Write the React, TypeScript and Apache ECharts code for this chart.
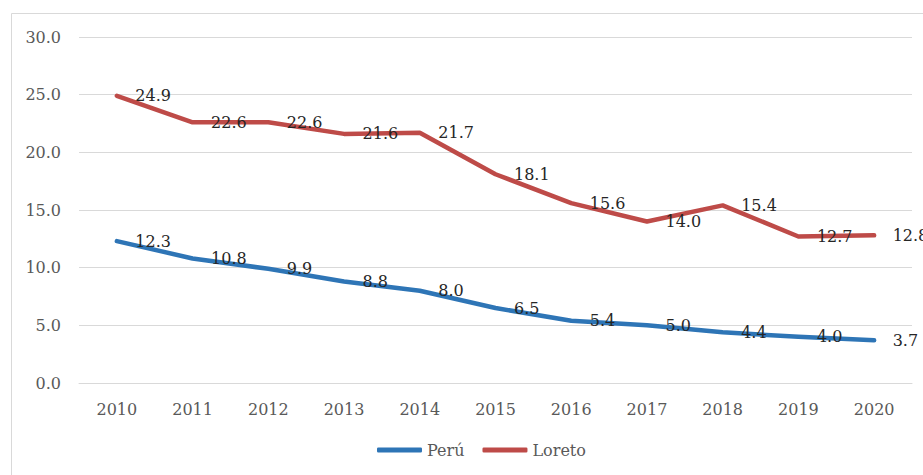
import React, { useEffect, useRef } from "react";
import * as echarts from "echarts";

const years = ["2010", "2011", "2012", "2013", "2014", "2015", "2016", "2017", "2018", "2019", "2020"];
const peru = [12.3, 10.8, 9.9, 8.8, 8.0, 6.5, 5.4, 5.0, 4.4, 4.0, 3.7];
const loreto = [24.9, 22.6, 22.6, 21.6, 21.7, 18.1, 15.6, 14.0, 15.4, 12.7, 12.8];

const FONT = "DejaVu Serif";

export default function App() {
  const ref = useRef<HTMLDivElement>(null);
  useEffect(() => {
    if (!ref.current) return;
    const chart = echarts.init(ref.current, null, { renderer: "svg" });
    const label = {
      show: true,
      position: "right" as const,
      distance: 18,
      color: "#262626",
      fontFamily: FONT,
      fontSize: 16,
      formatter: (p: any) => Number(p.value).toFixed(1),
    };
    chart.setOption({
      animation: false,
      backgroundColor: "#ffffff",
      graphic: [
        {
          type: "rect",
          shape: { x: 11.5, y: 13.5, width: 1000, height: 1000 },
          style: { fill: "none", stroke: "#d9d9d9", lineWidth: 1 },
          silent: true,
          z: -1,
        },
      ],
      grid: { left: 79, right: 11, top: 37, bottom: 92, containLabel: false },
      legend: {
        bottom: 12,
        left: 372,
        icon: "roundRect",
        itemWidth: 45,
        itemHeight: 5,
        itemGap: 18,
        textStyle: { fontFamily: FONT, fontSize: 16, color: "#595959" },
        data: ["Perú", "Loreto"],
      },
      xAxis: {
        type: "category",
        data: years,
        boundaryGap: true,
        axisLine: { show: true, lineStyle: { color: "#d9d9d9" } },
        axisTick: { show: false },
        axisLabel: { fontFamily: FONT, fontSize: 16, color: "#595959", margin: 18 },
      },
      yAxis: {
        type: "value",
        min: 0,
        max: 30,
        interval: 5,
        axisLine: { show: false },
        axisTick: { show: false },
        splitLine: { lineStyle: { color: "#d9d9d9", width: 1 } },
        axisLabel: {
          fontFamily: FONT,
          fontSize: 16,
          color: "#595959",
          margin: 18,
          formatter: (v: number) => v.toFixed(1),
        },
      },
      series: [
        {
          name: "Perú",
          type: "line",
          data: peru,
          symbol: "circle",
          symbolSize: 1,
          showSymbol: true,
          color: "#2E75B6",
          lineStyle: { width: 4.5, color: "#2E75B6", cap: "round", join: "round" },
          label,
        },
        {
          name: "Loreto",
          type: "line",
          data: loreto,
          symbol: "circle",
          symbolSize: 1,
          showSymbol: true,
          color: "#BE4B48",
          lineStyle: { width: 4.5, color: "#BE4B48", cap: "round", join: "round" },
          label,
        },
      ],
    });
    return () => chart.dispose();
  }, []);
  return (
    <div
      ref={ref}
      style={{ position: "fixed", left: 0, top: 0, width: 923, height: 475 }}
    />
  );
}
